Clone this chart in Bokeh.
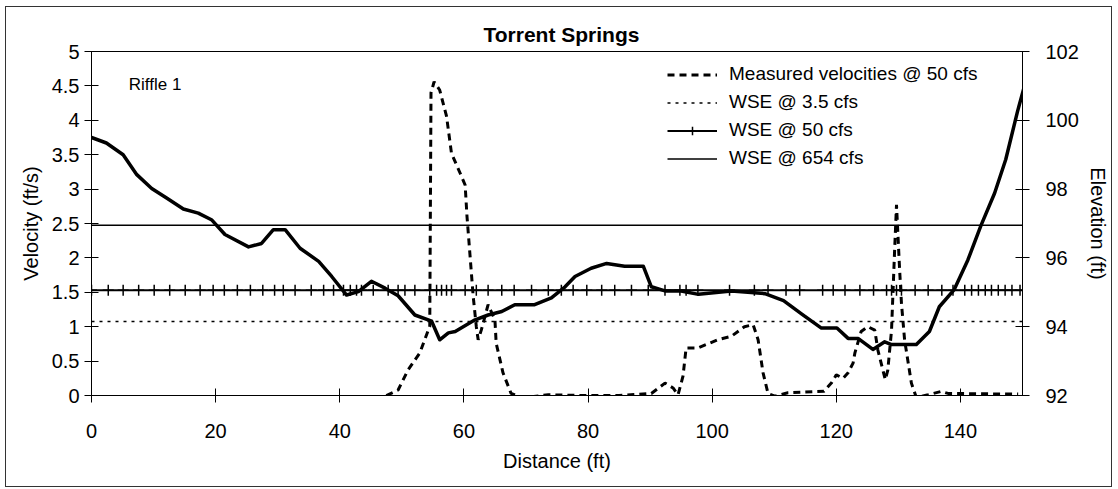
from bokeh.plotting import figure
from bokeh.models import (Range1d, LinearAxis, FixedTicker, NumeralTickFormatter,
                          Legend, LegendItem, Label)
from bokeh.embed import file_html
from bokeh.resources import INLINE

FONT = "Liberation Sans"

# ---------------- data ----------------
distance_ticks = [0, 20, 40, 60, 80, 100, 120, 140]
velocity_ticks = [0, 0.5, 1, 1.5, 2, 2.5, 3, 3.5, 4, 4.5, 5]
elevation_ticks = [92, 94, 96, 98, 100, 102]

# survey stations (ft) where WSE @ 50 cfs is computed
stations = [0, 2.7, 5.1, 7.6, 10.1, 12.6, 15.1, 17.5, 19.6, 21.4, 23.5, 25.6, 27.6,
            29.5, 30.9, 32.8, 35.4, 37.4, 39.0, 40.6, 41.7, 42.7, 43.5, 45.4, 47.8,
            49.4, 50.5, 52.1, 54.5, 55.6, 56.4, 57.2, 58.0, 60.2, 62.0, 63.9, 66.1,
            68.1, 70.9, 73.6, 75.7, 77.6, 79.8, 82.2, 84.3, 87.0, 89.7, 92.4, 94.8,
            95.8, 97.7, 102.8, 106.8, 109.0, 111.9, 114.1, 117.8, 119.5, 121.4, 123.8,
            126.0, 128.1, 128.9, 129.7, 130.5, 132.7, 134.8, 137.0, 138.8, 140.7,
            141.8, 142.9, 144.0, 145.0, 146.1, 147.2, 148.3, 149.6]

# bed profile (ft)
bed_x = [0, 2.4, 5.1, 7.3, 9.7, 12.1, 14.8, 17.2, 19.4, 21.5, 25.3, 27.4, 29.3, 31.2,
         33.6, 36.6, 38.7, 41.1, 43.0, 45.1, 47.3, 49.4, 52.1, 54.8, 56.1, 57.5, 58.6,
         61.8, 63.9, 66.1, 68.2, 71.4, 74.1, 76.3, 77.9, 80.5, 83.0, 85.9, 88.9, 90.2,
         92.4, 95.0, 97.8, 103.1, 108.5, 111.5, 114.5, 117.6, 120.1, 121.9, 123.5,
         125.9, 127.8, 128.9, 132.9, 135.0, 136.6, 139.0, 141.2, 143.3, 145.5, 147.3,
         149.2, 150.5]
bed_elev = [99.50, 99.34, 99.00, 98.42, 98.02, 97.74, 97.42, 97.30, 97.10, 96.68,
            96.32, 96.42, 96.82, 96.82, 96.28, 95.90, 95.46, 94.92, 95.02, 95.32,
            95.12, 94.90, 94.34, 94.16, 93.62, 93.82, 93.86, 94.20, 94.34, 94.44,
            94.64, 94.64, 94.84, 95.16, 95.46, 95.70, 95.84, 95.76, 95.76, 95.16,
            95.04, 95.04, 94.94, 95.04, 94.96, 94.76, 94.36, 93.96, 93.96, 93.66,
            93.66, 93.34, 93.56, 93.48, 93.48, 93.86, 94.58, 95.08, 95.94, 96.94,
            97.88, 98.86, 100.26, 101.12]

# measured velocities @ 50 cfs (ft/s)
vel_x = [47.5, 49.4, 51.0, 52.9, 54.3, 54.5, 54.7, 55.2, 56.1, 57.2, 58.0, 59.4, 60.2,
         60.5, 61.5, 62.0, 62.3, 62.8, 63.9, 65.0, 65.2, 66.3, 67.6, 69.5, 73.6, 79.0,
         85.0, 90.2, 92.4, 93.7, 94.5, 95.3, 95.8, 97.7, 100.9, 103.1, 105.2, 106.6,
         107.4, 108.2, 109.0, 110.1, 112.2, 118.0, 119.2, 120.0, 121.1, 121.9, 122.7,
         123.0, 124.0, 125.1, 126.2, 126.7, 127.5, 127.9, 128.3, 128.9, 129.4, 129.7,
         130.2, 130.5, 131.0, 132.1, 132.9, 134.8, 136.9, 138.0, 149.3]
vel = [0.0, 0.08, 0.37, 0.62, 0.96, 1.0, 4.4, 4.56, 4.44, 4.06, 3.52, 3.23, 3.06,
       2.60, 1.44, 1.00, 0.81, 0.95, 1.32, 1.10, 0.76, 0.33, 0.03, -0.03, 0.01, 0.0,
       0.0, 0.03, 0.18, 0.11, 0.01, 0.28, 0.69, 0.69, 0.81, 0.86, 1.00, 1.03,
       0.81, 0.33, 0.03, -0.01, 0.04, 0.06, 0.18, 0.30, 0.25, 0.33, 0.47,
       0.62, 0.93, 1.00, 0.95, 0.66, 0.37, 0.23, 0.37, 0.95, 2.12, 2.77,
       1.83, 1.34, 0.81, 0.18, -0.03, 0.01, 0.06, 0.03, 0.02]

wse_3p5 = 94.15
wse_50 = 95.06
wse_654 = 96.95
x_span = [0, 150]

# ---------------- figure ----------------
p = figure(frame_width=931, frame_height=344,
           min_border_left=85, min_border_right=88, min_border_top=44, min_border_bottom=91,
           x_range=Range1d(0, 150), y_range=Range1d(0, 5),
           output_backend="svg", toolbar_location=None)
p.extra_y_ranges = {"elev": Range1d(92, 102)}
p.styles = {"border": "1px solid #333333", "margin-left": "5px", "margin-top": "6px"}

p.xgrid.visible = False
p.ygrid.visible = False
p.outline_line_color = "black"
p.outline_line_width = 1
p.background_fill_color = "white"
p.border_fill_color = "white"

p.title.text = "Torrent Springs"
p.title.align = "left"
p.title.offset = 392
p.title.standoff = 12
p.title.text_font = FONT
p.title.text_font_size = "21px"
p.title.text_font_style = "bold"
p.title.text_color = "black"


def style_axis(ax, ticks, label, fmt, standoff, label_standoff):
    ax.ticker = FixedTicker(ticks=ticks)
    ax.formatter = NumeralTickFormatter(format=fmt)
    ax.axis_label = label
    ax.axis_label_text_font = FONT
    ax.axis_label_text_font_size = "20px"
    ax.axis_label_text_font_style = "normal"
    ax.axis_label_text_color = "black"
    ax.axis_label_standoff = label_standoff
    ax.major_label_text_font = FONT
    ax.major_label_text_font_size = "20px"
    ax.major_label_text_color = "black"
    ax.major_label_standoff = standoff
    ax.major_tick_in = 7
    ax.major_tick_out = 7
    ax.minor_tick_in = 0
    ax.minor_tick_out = 0
    ax.axis_line_color = "black"
    ax.major_tick_line_color = "black"


style_axis(p.xaxis[0], distance_ticks, "Distance (ft)", "0", 21, 9)
style_axis(p.yaxis[0], velocity_ticks, "Velocity (ft/s)", "0.[0]", 5, 7)

ax_r = LinearAxis(y_range_name="elev")
style_axis(ax_r, elevation_ticks, "Elevation (ft)", "0", 16, 5)
p.add_layout(ax_r, "right")

# ---------------- glyphs ----------------
r_meas = p.line(vel_x, vel, line_color="black", line_width=3, line_dash="7 5")
r_3p5 = p.line(x_span, [wse_3p5, wse_3p5], y_range_name="elev",
               line_color="black", line_width=1.4, line_dash="3 5")
r_50 = p.line(x_span, [wse_50, wse_50], y_range_name="elev",
              line_color="black", line_width=2)
r_50m = p.scatter(stations, [wse_50] * len(stations), y_range_name="elev",
                  marker="cross", size=11, line_color="black", line_width=1.5)
r_654 = p.line(x_span, [wse_654, wse_654], y_range_name="elev",
               line_color="black", line_width=1.6)
r_bed = p.line(bed_x, bed_elev, y_range_name="elev",
               line_color="black", line_width=3.5, line_join="round")

p.add_layout(Label(x=6, y=4.52, text="Riffle 1", text_baseline="middle",
                   text_font=FONT, text_font_size="17px", text_color="black"))

legend = Legend(items=[
    LegendItem(label="Measured velocities @ 50 cfs", renderers=[r_meas]),
    LegendItem(label="WSE @ 3.5 cfs", renderers=[r_3p5]),
    LegendItem(label="WSE @ 50 cfs", renderers=[r_50, r_50m]),
    LegendItem(label="WSE @ 654 cfs", renderers=[r_654]),
], location=(576, 226))
legend.background_fill_alpha = 0
legend.border_line_alpha = 0
legend.padding = 0
legend.margin = 0
legend.spacing = 6
legend.glyph_width = 50
legend.glyph_height = 21
legend.label_height = 21
legend.label_standoff = 12
legend.label_text_font = FONT
legend.label_text_font_size = "19px"
legend.label_text_color = "black"
p.add_layout(legend)

open("out.html", "w").write(file_html(p, INLINE))
